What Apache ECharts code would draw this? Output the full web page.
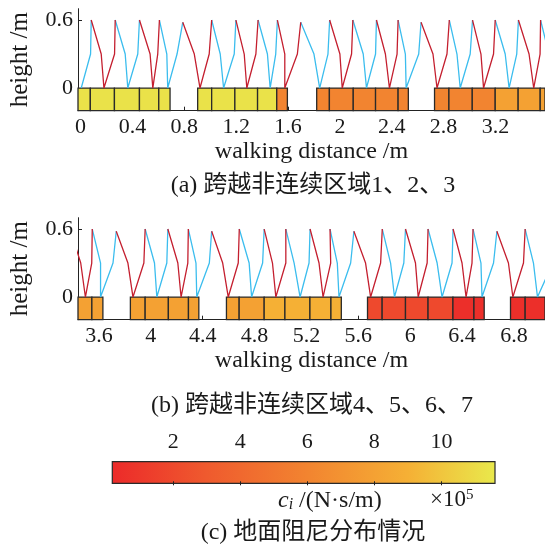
<!DOCTYPE html>
<html>
<head>
<meta charset="utf-8">
<script src="https://cdn.jsdelivr.net/npm/echarts/dist/echarts.min.js"></script>
<style>
html,body{margin:0;padding:0;background:#fff;}
#main{width:545px;height:546px;}
</style>
</head>
<body>
<div id="main"></div>
<script>
// ---------------- data ----------------
// ground blocks (walking distance, m) and their damping c_i (x10^5 N*s/m)
const blockStart = [-0.02, 0.075, 0.261, 0.454, 0.603,
  0.903, 1.011, 1.190, 1.365, 1.513,
  1.821, 1.919, 2.103, 2.275, 2.449,
  2.730, 2.841, 3.021, 3.198, 3.375, 3.545,
  3.842, 3.956, 4.135, 4.290,
  4.583, 4.681, 4.874, 5.034, 5.227, 5.389,
  5.671, 5.784, 5.964, 6.138, 6.330, 6.492,
  6.774, 6.887];
const blockEnd = [0.075, 0.261, 0.454, 0.603, 0.690,
  1.011, 1.190, 1.365, 1.513, 1.595,
  1.919, 2.103, 2.275, 2.449, 2.528,
  2.841, 3.021, 3.198, 3.375, 3.545, 3.630,
  3.956, 4.135, 4.290, 4.370,
  4.681, 4.874, 5.034, 5.227, 5.389, 5.469,
  5.784, 5.964, 6.138, 6.330, 6.492, 6.571,
  6.887, 7.100];
const blockDamping = [11.3, 11.3, 11.3, 11.3, 11.3,
  11.3, 11.3, 11.3, 11.3, 6,
  6, 6, 6, 6, 6,
  6, 6, 6, 8, 8, 8,
  8, 8, 8, 8,
  8, 8, 9, 9, 9, 9,
  2, 2, 2, 2, 0.5, 0.5,
  0.5, 0.5];

// leg track: foot, knee, hip, knee, foot, ... (feet alternate blue / red leg)
const trackX = [0.005, 0.077, 0.082, 0.159, 0.180, 0.262, 0.267, 0.344, 0.364, 0.441,
  0.454, 0.536, 0.557, 0.595, 0.608, 0.665, 0.672, 0.744, 0.788, 0.877,
  0.921, 0.992, 1.011, 1.077, 1.103, 1.185, 1.198, 1.262, 1.282, 1.352,
  1.369, 1.441, 1.462, 1.505, 1.518, 1.575, 1.575, 1.672, 1.698, 1.800,
  1.844, 1.908, 1.921, 2.000, 2.018, 2.090, 2.100, 2.180, 2.205, 2.275,
  2.282, 2.351, 2.382, 2.441, 2.449, 2.505, 2.511, 2.608, 2.626, 2.718,
  2.749, 2.826, 2.844, 2.903, 2.928, 3.005, 3.023, 3.088, 3.108, 3.185,
  3.198, 3.275, 3.305, 3.364, 3.377, 3.459, 3.495, 3.544, 3.548, 3.612,
  3.612, 3.708, 3.733, 3.823, 3.862, 3.946, 3.956, 4.028, 4.046, 4.123,
  4.131, 4.208, 4.233, 4.285, 4.289, 4.348, 4.354, 4.451, 4.469, 4.554,
  4.597, 4.674, 4.682, 4.758, 4.777, 4.862, 4.874, 4.938, 4.964, 5.041,
  5.041, 5.105, 5.151, 5.220, 5.228, 5.297, 5.328, 5.387, 5.382, 5.438,
  5.451, 5.541, 5.566, 5.656, 5.695, 5.772, 5.785, 5.849, 5.879, 5.951,
  5.964, 6.041, 6.062, 6.131, 6.138, 6.208, 6.246, 6.323, 6.331, 6.400,
  6.431, 6.477, 6.485, 6.546, 6.554, 6.643, 6.669, 6.758, 6.792, 6.874,
  6.887, 6.951, 6.982, 7.100, 7.130];
const trackY = [0, 0.3, 0.6, 0.3, 0, 0.3, 0.6, 0.3, 0, 0.3,
  0.6, 0.3, 0, 0.3, 0.6, 0.3, 0, 0.3, 0.58, 0.3,
  0, 0.3, 0.6, 0.3, 0, 0.3, 0.6, 0.3, 0, 0.3,
  0.6, 0.3, 0, 0.3, 0.6, 0.3, 0, 0.3, 0.58, 0.3,
  0, 0.3, 0.6, 0.3, 0, 0.3, 0.6, 0.3, 0, 0.3,
  0.6, 0.3, 0, 0.3, 0.6, 0.3, 0, 0.3, 0.58, 0.3,
  0, 0.3, 0.6, 0.3, 0, 0.3, 0.6, 0.3, 0, 0.3,
  0.6, 0.3, 0, 0.3, 0.6, 0.3, 0, 0.3, 0.6, 0.3,
  0, 0.3, 0.58, 0.3, 0, 0.3, 0.6, 0.3, 0, 0.3,
  0.6, 0.3, 0, 0.3, 0.6, 0.3, 0, 0.3, 0.58, 0.3,
  0, 0.3, 0.6, 0.3, 0, 0.3, 0.6, 0.3, 0, 0.3,
  0.6, 0.3, 0, 0.3, 0.6, 0.3, 0, 0.3, 0.6, 0.3,
  0, 0.3, 0.58, 0.3, 0, 0.3, 0.6, 0.3, 0, 0.3,
  0.6, 0.3, 0, 0.3, 0.6, 0.3, 0, 0.3, 0.6, 0.3,
  0, 0.3, 0.6, 0.3, 0, 0.3, 0.58, 0.3, 0, 0.3,
  0.6, 0.3, 0, 0.3, 0.6];

const topXTicks = [0, 0.4, 0.8, 1.2, 1.6, 2, 2.4, 2.8, 3.2];
const bottomXTicks = [3.6, 4, 4.4, 4.8, 5.2, 5.6, 6, 6.4, 6.8];
const heightTicks = [0, 0.6];
const dampingTicks = [2, 4, 6, 8, 10];
const dampingRange = [0.18, 11.6];
const dampingStops = [0.18, 3, 6, 9, 11.6];
const dampingColors = ['#EC2A2A', '#EF5A2E', '#F28430', '#F5B035', '#E9E94C'];

const captionA = '(a) 跨越非连续区域1、2、3';
const captionB = '(b) 跨越非连续区域4、5、6、7';
const captionC = '(c) 地面阻尼分布情况';

// ---------------- helpers ----------------
const FONT = '"Liberation Serif", "Noto Sans CJK SC", serif';
const TXT = '#1a1a1a';
const BLUE = '#3BBDEE';
const RED = '#C41F2F';
const yMin = -0.2, yMax = 0.7;

function hexRgb(h) { return [1,3,5].map(i => parseInt(h.substr(i,2),16)); }
function dampingColor(v) {
  if (v <= dampingStops[0]) return dampingColors[0];
  for (let i = 1; i < dampingStops.length; i++) {
    if (v <= dampingStops[i]) {
      const t = (v - dampingStops[i-1]) / (dampingStops[i] - dampingStops[i-1]);
      const a = hexRgb(dampingColors[i-1]), b = hexRgb(dampingColors[i]);
      const c = a.map((x, k) => Math.round(x + (b[k]-x)*t));
      return 'rgb(' + c.join(',') + ')';
    }
  }
  return dampingColors[dampingColors.length-1];
}

const blockData = blockStart.map((s, i) => [s, blockEnd[i], blockDamping[i]]);

function legData(parity) {
  const out = [];
  const n = trackX.length;
  for (let f = 0; 4*f < n; f++) {
    if (f % 2 !== parity) continue;
    const a = Math.max(0, 4*f - 2), b = Math.min(n - 1, 4*f + 2);
    for (let k = a; k <= b; k++) out.push([trackX[k], trackY[k]]);
    out.push(['-', '-']);
  }
  return out;
}
const blueLeg = legData(0);
const redLeg = legData(1);

function renderBlock(params, api) {
  const p0 = api.coord([api.value(0), 0]);
  const p1 = api.coord([api.value(1), yMin]);
  const cs = params.coordSys;
  const r = echarts.graphic.clipRectByRect(
    {x: p0[0], y: p0[1], width: p1[0]-p0[0], height: p1[1]-p0[1]},
    {x: cs.x, y: cs.y, width: cs.width, height: cs.height});
  if (!r) return null;
  return {type: 'rect', shape: r,
    style: {fill: dampingColor(api.value(2)), stroke: '#2a2a2a', lineWidth: 1.3}};
}

function renderColorbar(params, api) {
  const p0 = api.coord([api.value(0), 1]);
  const p1 = api.coord([api.value(1), 0]);
  const span = dampingRange[1] - dampingRange[0];
  const grad = new echarts.graphic.LinearGradient(0, 0, 1, 0,
    dampingStops.map((v, i) => ({offset: (v - dampingRange[0]) / span, color: dampingColors[i]})));
  return {type: 'rect', shape: {x: p0[0], y: p0[1], width: p1[0]-p0[0], height: p1[1]-p0[1]},
    style: {fill: grad, stroke: '#2a2a2a', lineWidth: 1.2}};
}

function xAxisFor(gi, min, max, ticks) {
  return {
    type: 'value', gridIndex: gi, min: min, max: max,
    axisLine: {show: true, onZero: false, lineStyle: {color: '#222', width: 1}},
    axisTick: {show: true, inside: true, length: 4, customValues: ticks, lineStyle: {color: '#222'}},
    axisLabel: {customValues: ticks, margin: 6, color: TXT, fontFamily: FONT, fontSize: 22,
      formatter: v => String(Math.round(v*10)/10)},
    splitLine: {show: false},
    name: 'walking distance /m', nameLocation: 'middle', nameGap: 29,
    nameTextStyle: {color: TXT, fontFamily: FONT, fontSize: 24}
  };
}
function yAxisFor(gi) {
  return {
    type: 'value', gridIndex: gi, min: yMin, max: yMax,
    axisLine: {show: true, onZero: false, lineStyle: {color: '#222', width: 1}},
    axisTick: {show: true, inside: true, length: 4, customValues: heightTicks, lineStyle: {color: '#222'}},
    axisLabel: {customValues: heightTicks, margin: 5, color: TXT, fontFamily: FONT, fontSize: 22,
      formatter: v => String(Math.round(v*10)/10)},
    splitLine: {show: false},
    name: 'height /m', nameLocation: 'middle', nameGap: 45, nameRotate: 90,
    nameTextStyle: {color: TXT, fontFamily: FONT, fontSize: 25}
  };
}

const option = {
  animation: false,
  backgroundColor: '#fff',
  grid: [
    {left: 76.7, top: 8.7, width: 468.3, height: 102},
    {left: 76.7, top: 217.7, width: 468.3, height: 102},
    {left: 112.3, top: 461.7, width: 382.7, height: 21.6}
  ],
  xAxis: [
    xAxisFor(0, -0.02, 3.582, topXTicks),
    xAxisFor(1, 3.438, 7.040, bottomXTicks),
    {type: 'value', gridIndex: 2, position: 'top', min: dampingRange[0], max: dampingRange[1], z: 5,
      axisLine: {show: false},
      axisTick: {show: true, inside: true, length: 2, customValues: dampingTicks, lineStyle: {color: '#222'}},
      axisLabel: {customValues: dampingTicks, margin: 8, color: TXT, fontFamily: FONT, fontSize: 22},
      splitLine: {show: false}},
    {type: 'value', gridIndex: 2, position: 'bottom', min: dampingRange[0], max: dampingRange[1], z: 5,
      axisLine: {show: false},
      axisTick: {show: true, inside: true, length: 2, customValues: dampingTicks, lineStyle: {color: '#222'}},
      axisLabel: {show: false}, splitLine: {show: false}}
  ],
  yAxis: [
    yAxisFor(0),
    yAxisFor(1),
    {type: 'value', gridIndex: 2, min: 0, max: 1, show: false}
  ],
  series: [
    {type: 'custom', xAxisIndex: 0, yAxisIndex: 0, renderItem: renderBlock, data: blockData,
      encode: {x: [0, 1]}, z: 2, silent: true},
    {type: 'custom', xAxisIndex: 1, yAxisIndex: 1, renderItem: renderBlock, data: blockData,
      encode: {x: [0, 1]}, z: 2, silent: true},
    {type: 'line', xAxisIndex: 0, yAxisIndex: 0, data: blueLeg, showSymbol: false, symbol: 'none',
      connectNulls: false, lineStyle: {color: BLUE, width: 1.3}, z: 3, clip: true},
    {type: 'line', xAxisIndex: 0, yAxisIndex: 0, data: redLeg, showSymbol: false, symbol: 'none',
      connectNulls: false, lineStyle: {color: RED, width: 1.3}, z: 3, clip: true},
    {type: 'line', xAxisIndex: 1, yAxisIndex: 1, data: blueLeg, showSymbol: false, symbol: 'none',
      connectNulls: false, lineStyle: {color: BLUE, width: 1.3}, z: 3, clip: true},
    {type: 'line', xAxisIndex: 1, yAxisIndex: 1, data: redLeg, showSymbol: false, symbol: 'none',
      connectNulls: false, lineStyle: {color: RED, width: 1.3}, z: 3, clip: true},
    {type: 'custom', xAxisIndex: 2, yAxisIndex: 2, renderItem: renderColorbar,
      data: [[dampingRange[0], dampingRange[1]]], encode: {x: [0, 1]}, z: 2, silent: true}
  ],
  graphic: [
    {type: 'text', x: 313, y: 186, style: {text: captionA, fill: TXT, font: '24px ' + FONT,
      textAlign: 'center', textVerticalAlign: 'middle'}},
    {type: 'text', x: 312, y: 406, style: {text: captionB, fill: TXT, font: '24px ' + FONT,
      textAlign: 'center', textVerticalAlign: 'middle'}},
    {type: 'text', x: 278, y: 489, style: {
      text: '{c|c}{i|i} /(N·s/m)', fill: TXT, font: '24px ' + FONT,
      rich: {c: {fontStyle: 'italic', fontFamily: FONT, fontSize: 24, fill: TXT},
             i: {fontStyle: 'italic', fontFamily: FONT, fontSize: 16, verticalAlign: 'bottom', fill: TXT}}}},
    {type: 'text', x: 430, y: 488, style: {
      text: '×10{s|5}', fill: TXT, font: '23px ' + FONT,
      rich: {s: {fontFamily: FONT, fontSize: 15, verticalAlign: 'top', fill: TXT}}}},
    {type: 'text', x: 313, y: 533, style: {text: captionC, fill: TXT, font: '24px ' + FONT,
      textAlign: 'center', textVerticalAlign: 'middle'}}
  ]
};

const chart = echarts.init(document.getElementById('main'));
chart.setOption(option);
</script>
</body>
</html>
